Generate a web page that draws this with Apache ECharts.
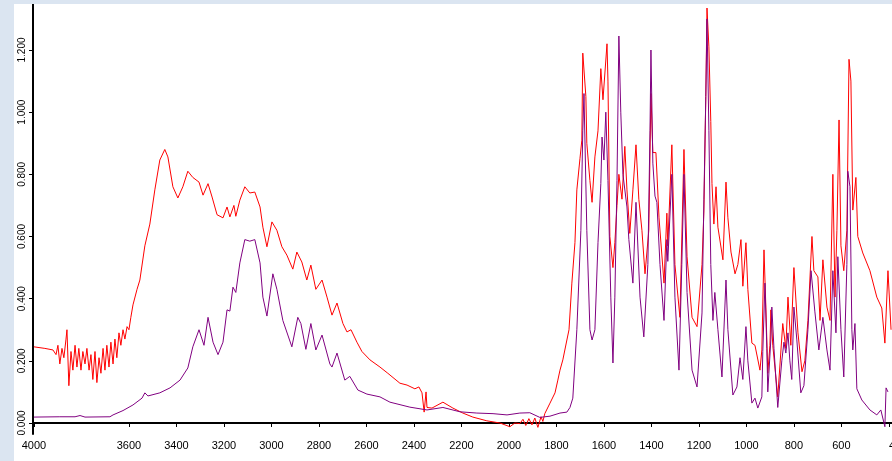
<!DOCTYPE html>
<html lang="en">
<head>
    <meta charset="UTF-8">
    <title>IR spectra</title>
    <script src="https://cdn.jsdelivr.net/npm/echarts@6/dist/echarts.min.js"></script>
    <style>
        html,body{margin:0;padding:0;background:#dbe5f1;overflow:hidden;}
        #main{position:absolute;left:14px;top:4px;width:878px;height:457px;background:#fff;}
    </style>
</head>
<body>
<div id="main"></div>
<script type="text/javascript">
    // wavenumber (cm-1) / absorbance
    var redWn=[4000,3954,3920,3907,3899,3891,3882,3874,3865,3861,3853,3844,3836,3827,3819,3811,3802,3794,3785,3777,3768,3760,3752,3743,3735,3726,3718,3709,3701,3693,3684,3676,3667,3659,3651,3642,3634,3625,3617,3608,3600,3592,3583,3566,3554,3533,3512,3491,3470,3449,3436,3415,3394,3373,3352,3331,3305,3288,3267,3250,3229,3204,3187,3175,3158,3150,3133,3112,3091,3070,3048,3036,3019,2998,2977,2956,2935,2910,2893,2872,2851,2834,2813,2787,2766,2745,2724,2699,2682,2665,2640,2619,2585,2543,2510,2459,2429,2396,2379,2366,2357,2349,2345,2324,2278,2236,2194,2152,2093,2038,1996,1975,1954,1941,1929,1916,1903,1891,1878,1865,1857,1849,1827,1806,1794,1785,1773,1756,1747,1735,1722,1714,1701,1693,1689,1676,1672,1659,1650,1638,1625,1613,1604,1596,1587,1583,1575,1562,1554,1545,1537,1524,1512,1503,1491,1478,1465,1453,1440,1427,1411,1402,1394,1381,1368,1347,1335,1331,1314,1301,1280,1263,1250,1229,1208,1187,1179,1171,1166,1158,1150,1145,1137,1128,1120,1099,1086,1078,1065,1048,1036,1023,1015,1002,994,977,964,943,935,926,918,910,901,897,889,868,847,834,825,813,800,783,766,754,741,724,716,699,690,678,661,648,636,627,619,610,602,590,577,568,560,552,539,531,510,480,451,430,417,404,391];
    var redAbs=[0.245,0.240,0.235,0.220,0.250,0.190,0.240,0.210,0.270,0.300,0.120,0.230,0.170,0.250,0.180,0.240,0.170,0.230,0.190,0.240,0.170,0.220,0.140,0.230,0.130,0.210,0.160,0.240,0.170,0.250,0.180,0.260,0.190,0.270,0.210,0.290,0.250,0.300,0.270,0.310,0.300,0.340,0.380,0.430,0.460,0.570,0.640,0.750,0.846,0.880,0.856,0.760,0.724,0.760,0.810,0.790,0.775,0.733,0.770,0.727,0.670,0.660,0.695,0.663,0.700,0.665,0.717,0.760,0.740,0.743,0.695,0.630,0.567,0.647,0.620,0.567,0.540,0.495,0.550,0.518,0.460,0.508,0.430,0.460,0.405,0.347,0.386,0.320,0.293,0.300,0.260,0.230,0.203,0.180,0.160,0.128,0.122,0.110,0.116,0.097,0.035,0.100,0.050,0.048,0.067,0.048,0.032,0.019,0.007,0.000,-0.012,0.000,-0.002,0.012,-0.008,0.014,-0.006,0.016,-0.014,0.020,0.005,0.030,0.064,0.097,0.138,0.170,0.203,0.267,0.300,0.450,0.580,0.750,0.850,0.910,1.190,1.050,0.900,0.780,0.710,0.856,0.940,1.140,1.040,1.040,1.220,1.100,0.600,0.500,0.580,0.700,0.800,0.720,0.890,0.750,0.610,0.750,0.895,0.720,0.620,0.480,0.620,1.060,0.870,0.870,0.660,0.450,0.675,0.570,0.895,0.510,0.340,0.880,0.535,0.340,0.310,0.510,0.685,1.050,1.335,1.210,0.970,0.770,0.640,0.760,0.630,0.525,0.775,0.660,0.550,0.480,0.510,0.590,0.440,0.580,0.430,0.257,0.250,0.170,0.235,0.557,0.370,0.160,0.250,0.364,0.250,0.084,0.320,0.240,0.405,0.250,0.500,0.290,0.165,0.200,0.330,0.600,0.490,0.470,0.330,0.525,0.373,0.330,0.800,0.405,0.620,0.975,0.570,0.490,0.620,1.170,1.100,0.685,0.790,0.600,0.547,0.490,0.405,0.370,0.257,0.490,0.300];

    var purpleWn=[4000,3891,3827,3806,3785,3680,3667,3625,3583,3545,3533,3520,3470,3427,3385,3352,3331,3305,3284,3267,3246,3225,3204,3187,3175,3162,3150,3133,3112,3091,3070,3048,3036,3019,2994,2977,2952,2914,2889,2876,2855,2834,2813,2787,2754,2745,2724,2691,2670,2636,2598,2543,2501,2417,2345,2278,2206,2135,2067,2008,1954,1912,1870,1827,1785,1756,1743,1731,1714,1697,1689,1684,1672,1659,1650,1638,1625,1613,1608,1600,1592,1583,1571,1562,1554,1545,1537,1529,1520,1503,1495,1478,1465,1448,1432,1415,1406,1402,1394,1385,1377,1364,1347,1335,1331,1314,1301,1284,1272,1263,1250,1229,1208,1187,1179,1171,1166,1158,1150,1141,1133,1120,1103,1086,1078,1057,1040,1027,1015,1002,994,977,964,952,935,931,922,914,910,897,893,884,868,851,842,834,825,817,809,800,788,771,758,741,728,712,695,678,661,648,636,623,615,602,590,577,573,564,556,552,543,535,514,480,451,434,417,412,404];
    var purpleAbs=[0.019,0.020,0.020,0.024,0.019,0.020,0.026,0.040,0.058,0.080,0.097,0.087,0.097,0.113,0.138,0.177,0.245,0.300,0.250,0.340,0.260,0.220,0.260,0.364,0.360,0.437,0.420,0.515,0.590,0.585,0.590,0.515,0.405,0.344,0.480,0.430,0.330,0.245,0.340,0.320,0.237,0.320,0.235,0.283,0.190,0.180,0.225,0.138,0.150,0.106,0.093,0.084,0.067,0.051,0.042,0.050,0.036,0.032,0.030,0.026,0.032,0.033,0.018,0.022,0.032,0.035,0.050,0.080,0.300,0.620,0.940,1.060,0.620,0.300,0.267,0.300,0.580,0.770,0.920,0.846,1.000,0.780,0.405,0.193,0.405,0.780,1.245,1.000,0.800,0.695,0.590,0.450,0.710,0.405,0.277,0.510,0.940,1.200,0.836,0.730,0.710,0.510,0.330,0.590,0.520,0.800,0.405,0.170,0.510,0.800,0.420,0.170,0.116,0.354,0.720,1.050,1.300,0.940,0.510,0.330,0.420,0.300,0.148,0.460,0.300,0.090,0.116,0.210,0.140,0.310,0.200,0.064,0.080,0.048,0.084,0.230,0.450,0.240,0.100,0.270,0.373,0.240,0.050,0.200,0.260,0.225,0.290,0.200,0.140,0.373,0.270,0.097,0.120,0.300,0.490,0.360,0.235,0.340,0.235,0.170,0.490,0.290,0.535,0.300,0.148,0.510,0.810,0.760,0.300,0.235,0.320,0.110,0.074,0.042,0.026,0.042,-0.012,0.113,0.100];

    var xTicks=[4000,3600,3400,3200,3000,2800,2600,2400,2200,2000,1800,1600,1400,1200,1000,800,600,400];
    var yTicks=[0,0.2,0.4,0.6,0.8,1.0,1.2];

    function pairs(xs,ys){
        var out=[];
        for(var i=0;i<xs.length;i++){
            out.push([xs[i],ys[i]]);
        }
        return out;
    }

    var chartDom = document.getElementById('main');
    var myChart = echarts.init(chartDom);
    var option;

    option = {
        animation:false,
        grid:{left:19,right:0,top:0,bottom:27,containLabel:false,outerBoundsMode:'none'},
        xAxis:{
            type:'value',
            inverse:true,
            min:387,
            max:4004,
            splitLine:{show:false},
            axisLine:{lineStyle:{color:'#000',width:2}},
            axisTick:{customValues:xTicks,length:4,lineStyle:{color:'#000'}},
            axisLabel:{
                customValues:xTicks,
                color:'#000',
                fontSize:11,
                fontFamily:'Liberation Sans',
                margin:6,
                hideOverlap:false,
                alignMaxLabel:'left',
                formatter:function(v){return String(v);}
            }
        },
        yAxis:{
            type:'value',
            min:-0.0354,
            max:1.348,
            splitLine:{show:false},
            axisLine:{show:true,lineStyle:{color:'#000',width:2}},
            axisTick:{show:true,customValues:yTicks,length:4,lineStyle:{color:'#000'}},
            axisLabel:{
                customValues:yTicks,
                rotate:90,
                color:'#000',
                fontSize:10,
                fontFamily:'Liberation Sans',
                margin:6,
                formatter:function(v){return v.toFixed(3);}
            }
        },
        series:[
            {
                name:'red',
                type:'line',
                showSymbol:false,
                data:pairs(redWn,redAbs),
                lineStyle:{color:'#ff0000',width:1},
                itemStyle:{color:'#ff0000'}
            },
            {
                name:'purple',
                type:'line',
                showSymbol:false,
                data:pairs(purpleWn,purpleAbs),
                lineStyle:{color:'#800080',width:1},
                itemStyle:{color:'#800080'}
            }
        ]
    };

    option && myChart.setOption(option);
</script>
</body>
</html>
